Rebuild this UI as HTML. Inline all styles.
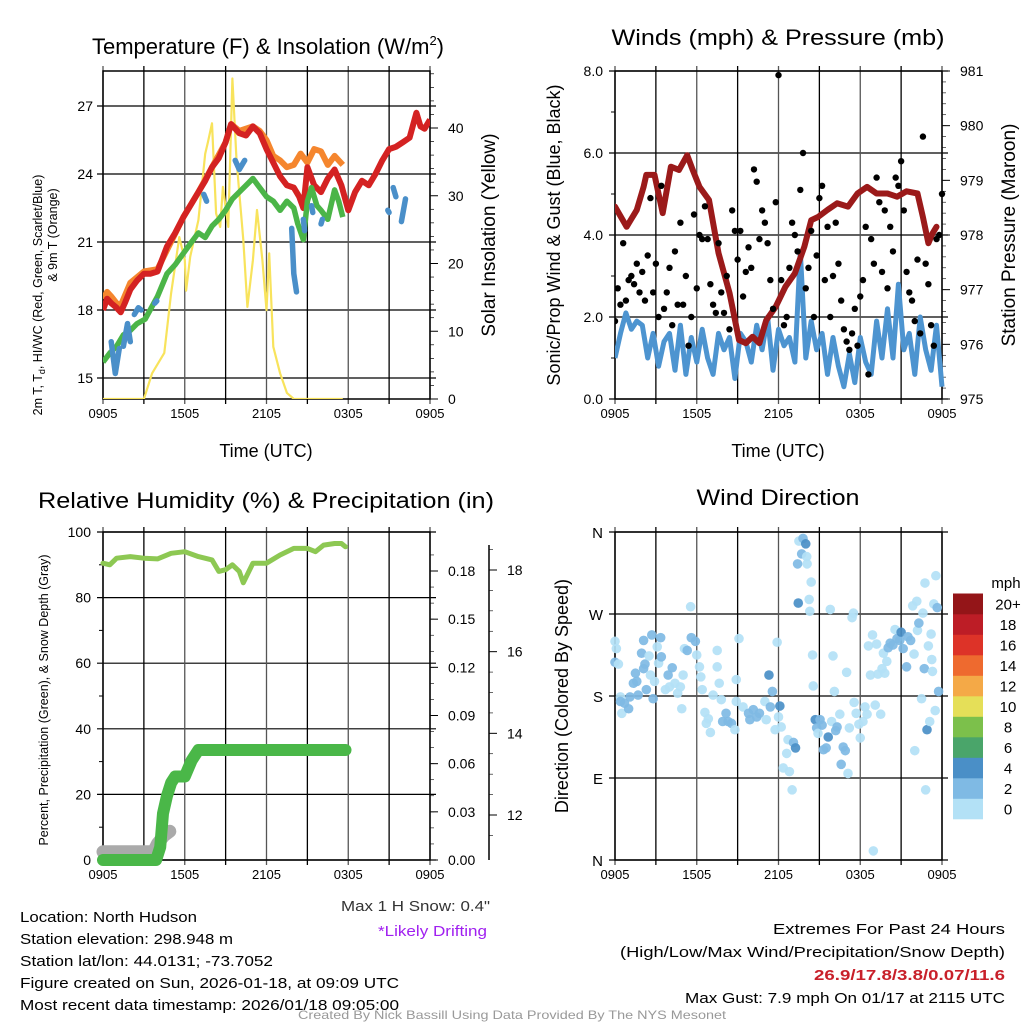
<!DOCTYPE html>
<html><head><meta charset="utf-8"><style>
html,body{margin:0;padding:0;background:#fff}
svg{display:block;font-family:"Liberation Sans",sans-serif}
</style></head><body>
<svg id="fig" width="1024" height="1024" viewBox="0 0 1024 1024" xmlns="http://www.w3.org/2000/svg">
<rect width="1024" height="1024" fill="#fff"/>
<g id="tl"></g>
<g id="tr"></g>
<g id="bl"></g>
<g id="br"></g>
<g id="txt" font-size="15" fill="#000">
<text x="20" y="922" textLength="177" lengthAdjust="spacingAndGlyphs">Location: North Hudson</text>
<text x="20" y="944" textLength="213" lengthAdjust="spacingAndGlyphs">Station elevation: 298.948 m</text>
<text x="20" y="966" textLength="253" lengthAdjust="spacingAndGlyphs">Station lat/lon: 44.0131; -73.7052</text>
<text x="20" y="988" textLength="379" lengthAdjust="spacingAndGlyphs">Figure created on Sun, 2026-01-18, at 09:09 UTC</text>
<text x="20" y="1010" textLength="379" lengthAdjust="spacingAndGlyphs">Most recent data timestamp: 2026/01/18 09:05:00</text>
<text x="490" y="911" text-anchor="end" fill="#333" textLength="149" lengthAdjust="spacingAndGlyphs">Max 1 H Snow: 0.4"</text>
<text x="487" y="936" text-anchor="end" fill="#a020f0" textLength="109" lengthAdjust="spacingAndGlyphs">*Likely Drifting</text>
<text x="1005" y="934" text-anchor="end" textLength="232" lengthAdjust="spacingAndGlyphs">Extremes For Past 24 Hours</text>
<text x="1005" y="957" text-anchor="end" textLength="385" lengthAdjust="spacingAndGlyphs">(High/Low/Max Wind/Precipitation/Snow Depth)</text>
<text x="1005" y="980" text-anchor="end" fill="#c8202a" font-weight="bold" textLength="191" lengthAdjust="spacingAndGlyphs">26.9/17.8/3.8/0.07/11.6</text>
<text x="1005" y="1003" text-anchor="end" textLength="320" lengthAdjust="spacingAndGlyphs">Max Gust: 7.9 mph On 01/17 at 2115 UTC</text>
<text x="512" y="1019" text-anchor="middle" fill="#999" font-size="12" textLength="428" lengthAdjust="spacingAndGlyphs">Created By Nick Bassill Using Data Provided By The NYS Mesonet</text>
</g>
</svg>
<script>
// ---------- data ----------
const timeTicks = ["0905","1505","2105","0305","0905"];
const tempTicks = [15,18,21,24,27];
const solarTicks = [0,10,20,30,40];
const tempHours = [0,0.3,0.6,1,1.3,1.6,2,2.5,3,3.5,4,4.7,5.3,5.9,6.5,7,7.5,8,8.5,9,9.4,10,10.5,11,11.5,12,12.5,13,13.5,14,14.4,14.7,15,15.5,16,16.5,17,17.5,18,18.5,19,19.5,20,20.5,21,21.5,22,22.5,23,23.3,23.6,24];
const tempVals  = [18.0,18.5,18.3,18.1,17.9,18.3,18.9,19.3,19.6,19.6,19.7,20.8,21.4,22.1,22.7,23.2,23.7,24.3,24.7,25.4,26.2,25.8,25.7,26.1,25.8,25.1,24.5,23.9,23.5,23.4,23.0,22.5,24.3,23.5,23.2,23.8,24.2,23.5,22.4,23.2,23.7,23.5,24.0,24.6,25.1,25.2,25.4,25.6,26.7,26.1,26.0,26.4];
const t9Hours = [0,0.3,0.6,1,1.3,2,3,4,5.9,7,8,9,9.4,10,11,11.5,12,12.5,13,13.5,14,14.5,15,15.5,16,16.5,17,17.3,17.6];
const t9Vals  = [18.5,18.8,18.6,18.3,18.2,19.2,19.7,19.8,22.1,23.2,24.3,25.4,26.2,25.9,26.1,25.9,25.5,24.8,24.6,24.3,24.4,24.9,24.5,25.1,25.0,24.4,24.8,24.6,24.4];
const tdHours = [0,0.5,1,1.5,2,2.5,3.1,4,4.7,5.3,5.9,6.5,7,7.5,8,8.5,9,9.5,10,10.5,11,11.5,12,12.5,13,13.5,14,14.3,14.7,15,15.3,15.7,16,16.5,17,17.3,17.6];
const tdVals  = [15.7,16.1,16.4,16.9,17.1,17.4,17.6,18.6,19.6,20.0,20.5,21.0,21.4,21.2,21.7,22.0,22.4,22.9,23.2,23.5,23.8,23.4,23.0,22.8,22.4,22.8,22.5,21.8,21.1,22.8,23.4,22.6,22.4,22.0,23.3,22.8,22.1];
const wcSegHours = [[0.6,0.9,1.2],[1.5,1.8,2.0],[2.3,2.6,2.8],[3.8,3.95],[7.4,7.6],[9.7,10.0,10.4],[13.85,14.0,14.2],[14.7,14.8],[15.3,15.4],[16.0,16.1],[20.9,21.0],[21.3,21.5],[21.9,22.2]];
const wcSegVals  = [[16.6,15.2,16.3],[16.4,17.4,16.6],[17.8,18.1,18.0],[18.3,18.4],[23.1,22.8],[24.6,24.2,24.6],[21.6,19.6,18.8],[22.0,21.5],[22.6,22.3],[21.8,22.0],[22.4,22.3],[23.4,23.0],[21.9,22.9]];
const solarHours = [0,3,3.6,4.5,5,5.6,6,6.1,6.4,7,7.5,7.7,8,8.3,8.6,8.8,9.2,9.5,9.8,10.3,10.6,11,11.3,11.7,12,12.2,12.5,13,13.5,14,17.6];
const solarVals  = [0,0,3.8,6.8,15.6,23.9,20.5,16,21,26.4,36.2,37.9,40.7,27.4,25.4,31.3,25.4,47.3,35.3,23.5,13.6,20.5,27.9,20.5,13.1,21.5,7.7,3.8,0.9,0,0];

const windTicks = ["0.0","2.0","4.0","6.0","8.0"];
const presTicks = [975,976,977,978,979,980,981];
const windVals = [1.0,1.6,2.1,1.7,1.9,1.8,1.0,1.6,0.8,1.4,1.6,0.7,1.8,0.6,1.5,0.9,1.7,1.0,0.6,1.6,1.2,1.5,0.5,1.6,1.4,0.9,1.8,1.2,2.0,0.7,1.7,1.3,1.5,0.9,3.6,1.0,1.9,1.2,1.6,0.6,1.5,0.8,0.3,1.1,0.4,1.5,0.9,0.6,1.9,1.0,2.2,1.0,2.8,1.2,1.6,0.6,2.0,1.2,0.7,1.8,0.3];
const gustVals = [1.9,2.7,2.3,3.8,2.4,2.9,3.0,2.8,3.3,2.6,3.1,
 2.4,3.5,4.9,2.6,3.3,2.0,5.2,2.2,2.6,3.2,
 1.8,3.6,2.3,4.3,2.3,3.0,1.3,2.0,4.5,2.7,
 4.0,3.9,4.7,3.9,2.8,2.3,2.1,3.8,2.6,2.1,
 3.0,1.7,4.6,4.1,3.4,4.1,2.5,3.1,3.7,3.2,
 5.6,5.3,3.9,4.6,4.3,3.8,2.9,2.2,4.8,7.9,
 2.9,1.8,2.0,3.2,4.3,4.0,3.6,5.1,6.0,2.7,
 3.2,4.1,2.0,3.5,4.9,5.2,2.9,4.2,2.0,3.0,
 4.3,3.3,2.4,1.7,1.4,1.2,1.6,2.2,1.3,2.5,
 2.9,4.2,0.6,3.9,3.3,5.4,4.8,3.1,4.6,2.7,
 4.2,3.6,5.4,5.2,5.8,4.6,3.1,2.6,2.4,1.9,
 3.4,1.6,6.4,3.3,2.8,1.8,1.3,3.9,4.0,5.0];
const presHours = [0,0.85,1.6,2.1,2.3,2.9,3.5,4.1,4.7,5.3,5.7,6.2,6.9,7.6,8.4,9.1,9.6,10.1,10.6,11.1,11.8,12.5,13.2,13.9,14.4,14.9,15.6,16.3,17.1,17.8,18.5,19.2,20,20.7,21.4,22.2,22.6,23,23.3,23.6];
const presVals  = [978.52,978.15,978.46,978.88,979.1,979.1,978.4,979.25,979.19,979.46,979.19,978.88,978.64,977.67,976.94,976.08,976.02,976.14,976.02,976.44,976.69,977.05,977.3,977.79,978.27,978.33,978.46,978.58,978.52,978.76,978.88,978.76,978.76,978.7,978.8,978.76,978.33,977.85,978.03,978.15];

const rhTicks = [0,20,40,60,80,100];
const precipTicks = ["0.00","0.03","0.06","0.09","0.12","0.15","0.18"];
const snowTicks = [12,14,16,18];
const rhHours = [0,0.5,1,2,3,4,5,6,7,8,8.5,9,9.5,10,10.3,11,12,13,14,15,15.6,16.2,17,17.5,17.8];
const rhVals  = [90.5,90,92,92.5,92,91.8,93.5,94,92.5,91.5,88,88.5,90,88,84.5,90.5,90.5,93,95,95,94,96,96.5,96.5,95.5];
const precipHours = [0,3.9,4.2,4.4,4.7,5,5.3,6,6.5,7,17.8];
const precipVals  = [0,0,0.008,0.029,0.04,0.048,0.052,0.052,0.062,0.0685,0.0685];
const snowHours = [0,3.7,4.0,4.5,4.9];
const snowVals  = [11.1,11.1,11.3,11.5,11.6];

const dirTicks = ["N","E","S","W","N"];
const cbLabels = ["0","2","4","6","8","10","12","14","16","18","20+"];
const cbColors = ["#b3e1f6","#7fbae4","#4a8fc7","#4aa56a","#7cc04b","#e5df58","#f4a947","#ee6a2f","#dd3328","#bd1d26","#941518"];
const dirHours = [0,0.1,0,0.25,0.4,0.4,0.5,0.7,1.0,1.1,1.35,1.5,1.6,1.7,1.95,2.1,2.1,2.2,2.3,2.5,2.6,2.7,2.8,2.9,3.1,3.2,3.35,3.4,3.7,3.9,4.0,4.2,4.4,4.6,4.8,4.9,5.0,5.1,5.3,5.55,5.6,5.9,6.0,6.2,6.3,6.4,6.6,6.7,6.85,7.0,7.2,7.5,7.5,7.65,7.8,7.9,8.15,8.3,8.55,8.8,8.9,9.1,8.9,9.4,9.8,9.9,10.15,10.4,10.6,11,11.1,11.3,11.4,11.55,11.75,11.9,12.0,12.1,12.2,12.35,12.6,12.7,12.8,13.0,13.1,13.25,13.4,13.45,13.5,13.7,13.8,14.0,14.07,14.1,14.3,14.25,14.4,14.5,14.55,14.7,14.8,14.9,15.05,15.2,15.3,15.5,15.65,15.8,15.9,16.0,16.1,16.2,16.3,16.5,16.6,16.75,16.9,17.0,17.1,17.2,17.4,17.5,17.55,17.7,17.9,18.0,18.2,18.35,18.5,18.6,18.75,18.9,18.96,19.1,19.2,19.3,19.5,19.6,19.7,19.8,19.95,20.05,20.2,20.4,20.55,20.7,20.9,21.0,21.15,21.4,21.5,21.7,21.85,21.95,22.0,22.15,22.2,22.3,22.5,22.6,22.7,22.75,22.8,22.9,23.0,23.1,23.2,23.25,23.3,23.4,23.5,23.55,23.65,23.75];
const dirVals = [240,232,217,215,179,174,161,172,166,179,194,205,196,181,227,210,241,215,187,224,203,247,177,196,234,216,244,223,187,203,190,211,194,183,190,166,203,232,230,278,244,240,225,212,201,187,162,150,155,140,181,230,212,194,176,152,161,152,150,143,198,243,174,168,161,154,165,157,161,174,154,203,168,185,143,239,157,169,146,101,117,132,97,77,129,123,325,282,350,336,353,347,333,325,273,286,305,225,191,154,145,139,154,148,121,123,135,275,152,224,185,142,146,160,105,124,120,206,95,145,266,271,173,161,149,134,152,168,160,235,203,247,10,170,237,204,160,210,227,205,218,233,238,236,253,243,241,250,232,212,245,241,279,226,120,284,252,260,177,271,210,304,77,143,235,152,248,220,207,281,164,312,277,185];
const dirSpeeds = [1,1,2,1,1,3,1,3,3,3,3,3,3,3,3,3,3,3,3,1,1,3,3,1,1,1,3,3,1,3,1,3,1,1,1,1,1,1,3,1,3,3,1,1,1,1,1,1,1,1,1,1,1,1,1,3,3,3,3,1,1,1,1,1,3,3,3,3,3,1,1,4,3,3,1,1,1,4,1,1,1,1,1,1,3,4,3,4,1,3,3,5,1,1,1,1,1,1,1,4,3,1,3,3,3,3,4,1,1,1,1,3,3,1,3,3,3,1,1,1,1,1,1,1,1,1,1,1,1,1,1,1,1,1,1,1,1,1,1,1,1,3,3,3,1,3,3,4,3,3,3,3,1,1,1,1,1,3,1,1,3,1,1,4,1,1,1,1,1,1,1,1,3,3];

// ---------- helpers ----------
const NS = "http://www.w3.org/2000/svg";
function mk(parent, tag, attrs, text){
  const e = document.createElementNS(NS, tag);
  for (const k in attrs) e.setAttribute(k, attrs[k]);
  if (text !== undefined) e.textContent = text;
  parent.appendChild(e);
  return e;
}
function linScale(d0,d1,r0,r1){ return v => r0 + (v-d0)*(r1-r0)/(d1-d0); }
function pathFrom(hs, vs, xs, ys){
  let d=""; for(let i=0;i<hs.length;i++){ d += (i?"L":"M")+xs(hs[i]).toFixed(1)+","+ys(vs[i]).toFixed(1); } return d;
}
function frame(g, L, R, T, B){
  for(let i=0;i<=8;i++){
    const x = L + i*(R-L)/8;
    const vl = mk(g,"line",{x1:x,x2:x,y1:T-5,y2:B+5,stroke: i%2? "#000":"#555","stroke-width":1.3});
    
    
  }
  const fr = mk(g,"rect",{x:L,y:T,width:R-L,height:B-T,fill:"none",stroke:"#000","stroke-width":1.5});
  
  
  for(let i=0;i<timeTicks.length;i++){
    const t = mk(g,"text",{x:L+i*(R-L)/4,y:B+19,"text-anchor":"middle","font-size":13}, timeTicks[i]);
    
    
  }
}
function hgrid(g,L,R,y){
  const l = mk(g,"line",{x1:L-6,x2:R+6,y1:y,y2:y,stroke:"#000","stroke-width":1.2});
  
  
}
function label(g,x,y,s,txt,anchor,rot,name,extra){
  const a = {x:x,y:y,"font-size":s,"text-anchor":anchor||"middle"};
  if(rot) a.transform = "rotate(-90 "+x+" "+y+")";
  if(extra) for(const k in extra) a[k]=extra[k];
  const t = mk(g,"text",a,txt);
  
  
  return t;
}

// ---------- top-left: temperature ----------
(function(){
  const g = document.getElementById("tl");
  const L=103,R=430,T=71,B=399;
  const x = linScale(0,24,L,R);
  const y = linScale(15,27,378,106);
  const ys = linScale(0,40,399,128);
  const tt = mk(g,"text",{x:268,y:54,"font-size":22,"text-anchor":"middle"});
  
  
  tt.innerHTML = 'Temperature (F) &amp; Insolation (W/m<tspan font-size="13" dy="-9">2</tspan><tspan dy="9">)</tspan>';
  tempTicks.forEach(v=>{ hgrid(g,L,R,y(v)); label(g,L-10,y(v)+5,14,String(v),"end",false,"temp-tick-label"); });
  solarTicks.forEach(v=>{ mk(g,"line",{x1:R,x2:R+8,y1:ys(v),y2:ys(v),stroke:"#000"}); label(g,R+18,ys(v)+5,14,String(v),"start",false,"solar-tick-label"); });
  for(let v=2;v<=48;v+=2){ if(v%10) mk(g,"line",{x1:R,x2:R+4,y1:ys(v),y2:ys(v),stroke:"#000","stroke-width":0.7}); }
  frame(g,L,R,T,B);
  label(g,266,457,18,"Time (UTC)","middle",false,"x-axis-title");
  label(g,42,235,12.5,"2m T, T","middle",true,"temp-axis-title",{dx:-60}).innerHTML='2m T, T<tspan font-size="9" dy="3">d</tspan><tspan dy="-3">, HI/WC (Red, Green, Scarlet/Blue)</tspan>';
  label(g,57,235,12.5,"& 9m T (Orange)","middle",true,"temp-axis-title-2");
  label(g,495,235,19,"Solar Insolation (Yellow)","middle",true,"solar-axis-title");
  const clip = mk(g,"clipPath",{id:"c1"}); mk(clip,"rect",{x:L,y:T,width:R-L,height:B-T});
  const sg = mk(g,"g",{"clip-path":"url(#c1)"});
  const p1 = mk(sg,"path",{d:pathFrom(solarHours,solarVals,x,ys),fill:"none",stroke:"#f8e35c","stroke-width":2.2,"stroke-linejoin":"round"});
   
  const p2 = mk(sg,"path",{d:pathFrom(t9Hours,t9Vals,x,y),fill:"none",stroke:"#f5862e","stroke-width":6,"stroke-linejoin":"round"});
   
  const p3 = mk(sg,"path",{d:pathFrom(tempHours,tempVals,x,y),fill:"none",stroke:"#d42222","stroke-width":6,"stroke-linejoin":"round"});
   
  const p4 = mk(sg,"path",{d:pathFrom(tdHours,tdVals,x,y),fill:"none",stroke:"#4bb548","stroke-width":5.5,"stroke-linejoin":"round"});
   
  wcSegHours.forEach((hs,i)=>{
    const p = mk(sg,"path",{d:pathFrom(hs,wcSegVals[i],x,y),fill:"none",stroke:"#4a8fc9","stroke-width":5.5,"stroke-linecap":"round","stroke-linejoin":"round"});
     
  });
})();

// ---------- top-right: wind & pressure ----------
(function(){
  const g = document.getElementById("tr");
  const L=615,R=942,T=71,B=399;
  const x = linScale(0,24,L,R);
  const y = linScale(0,8,B,T);
  const yp = linScale(975,981,B,T);
  label(g,778,45,22,"Winds (mph) & Pressure (mb)","middle",false,"wind-title",{textLength:333,lengthAdjust:"spacingAndGlyphs"});
  windTicks.forEach(v=>{ hgrid(g,L,R,y(+v)); label(g,L-12,y(+v)+5,14,v,"end",false,"wind-tick-label"); });
  for(let v=1;v<8;v+=2) mk(g,"line",{x1:L-4,x2:L,y1:y(v),y2:y(v),stroke:"#000"});
  presTicks.forEach(v=>{ mk(g,"line",{x1:R,x2:R+8,y1:yp(v),y2:yp(v),stroke:"#000"}); label(g,R+18,yp(v)+5,14,String(v),"start",false,"pressure-tick-label"); });
  for(let v=975.2;v<981;v+=0.2){ mk(g,"line",{x1:R,x2:R+4,y1:yp(v),y2:yp(v),stroke:"#000","stroke-width":0.6}); }
  frame(g,L,R,T,B);
  label(g,778,457,18,"Time (UTC)","middle",false,"x-axis-title");
  label(g,560,235,18,"Sonic/Prop Wind & Gust (Blue, Black)","middle",true,"wind-axis-title");
  label(g,1015,235,19,"Station Pressure (Maroon)","middle",true,"pressure-axis-title");
  const clip = mk(g,"clipPath",{id:"c2"}); mk(clip,"rect",{x:L,y:T-4,width:R-L+4,height:B-T+4});
  const sg = mk(g,"g",{"clip-path":"url(#c2)"});
  const wh = windVals.map((v,i)=>i*24/(windVals.length-1));
  const pw = mk(sg,"path",{d:pathFrom(wh,windVals,x,y),fill:"none",stroke:"#4d94d0","stroke-width":5,"stroke-linejoin":"round"});
   
  const pp = mk(sg,"path",{d:pathFrom(presHours,presVals,x,yp),fill:"none",stroke:"#9b1a1a","stroke-width":6,"stroke-linejoin":"round","stroke-linecap":"round"});
   
  gustVals.forEach((v,i)=>{
    const c = mk(sg,"circle",{cx:x(i*24/(gustVals.length-1)),cy:y(v),r:3.2,fill:"#000"});
    
    
  });
})();

// ---------- bottom-left: RH & precip ----------
(function(){
  const g = document.getElementById("bl");
  const L=103,R=430,T=532,B=860;
  const x = linScale(0,24,L,R);
  const y = linScale(0,100,B,T);
  const yp = linScale(0,0.18,B,571);
  const ysn = linScale(12,18,815,570);
  label(g,266,508,22,"Relative Humidity (%) & Precipitation (in)","middle",false,"rh-title",{textLength:456,lengthAdjust:"spacingAndGlyphs"});
  rhTicks.forEach(v=>{ hgrid(g,L,R,y(v)); label(g,L-12,y(v)+5,14,String(v),"end",false,"rh-tick-label"); });
  for(let v=10;v<100;v+=20) mk(g,"line",{x1:L-4,x2:L,y1:y(v),y2:y(v),stroke:"#000"});
  precipTicks.forEach(v=>{ mk(g,"line",{x1:R,x2:R+8,y1:yp(+v),y2:yp(+v),stroke:"#000"}); label(g,R+18,yp(+v)+5,14,v,"start",false,"precip-tick-label"); });
  for(let v=0.01;v<0.195;v+=0.01){ mk(g,"line",{x1:R,x2:R+4,y1:yp(v),y2:yp(v),stroke:"#000","stroke-width":0.6}); }
  mk(g,"line",{x1:489,x2:489,y1:545,y2:860,stroke:"#000","stroke-width":1.5});
  snowTicks.forEach(v=>{ mk(g,"line",{x1:489,x2:497,y1:ysn(v),y2:ysn(v),stroke:"#000"}); label(g,507,ysn(v)+5,14,String(v),"start",false,"snow-tick-label"); });
  for(let v=11.5;v<18.6;v+=0.5){ if(v%2) mk(g,"line",{x1:489,x2:493,y1:ysn(v),y2:ysn(v),stroke:"#000","stroke-width":0.6}); }
  frame(g,L,R,T,B);
  label(g,48,700,12.5,"Percent, Precipitation (Green), & Snow Depth (Gray)","middle",true,"rh-axis-title");
  const sg = mk(g,"g",{});
  const ps = mk(sg,"path",{d:pathFrom(snowHours,snowVals,x,ysn),fill:"none",stroke:"#aaaaaa","stroke-width":13,"stroke-linecap":"round","stroke-linejoin":"round"});
   
  const pr = mk(sg,"path",{d:pathFrom(precipHours,precipVals,x,yp),fill:"none",stroke:"#4ab748","stroke-width":12,"stroke-linecap":"round","stroke-linejoin":"round"});
   
  const ph = mk(sg,"path",{d:pathFrom(rhHours,rhVals,x,y),fill:"none",stroke:"#8dc853","stroke-width":5,"stroke-linecap":"round","stroke-linejoin":"round"});
   
})();

// ---------- bottom-right: wind direction ----------
(function(){
  const g = document.getElementById("br");
  const L=615,R=942,T=532,B=860;
  const x = linScale(0,24,L,R);
  const y = linScale(0,360,B,T);
  label(g,778,505,22,"Wind Direction","middle",false,"direction-title",{textLength:163,lengthAdjust:"spacingAndGlyphs"});
  dirTicks.forEach((v,i)=>{ hgrid(g,L,R,y(i*90)); label(g,L-12,y(i*90)+6,15,v,"end",false,"direction-tick-label"); });
  frame(g,L,R,T,B);
  label(g,568,696,18,"Direction (Colored By Speed)","middle",true,"direction-axis-title");
  dirVals.forEach((d,i)=>{
    const s = dirSpeeds[i];
    const c = mk(g,"circle",{cx:x(dirHours[i]),cy:y(d),r:4.8,fill:cbColors[Math.min(10,Math.floor(s/2))],"fill-opacity":0.92});
    
    
  });
  label(g,1006,588,15,"mph","middle",false,"colorbar-title");
  cbLabels.forEach((lab,i)=>{
    const yy = 819 - (i+1)*20.5;
    const r = mk(g,"rect",{x:953,y:yy,width:30,height:20.8,fill:cbColors[i]});
    
    
    label(g,1008,yy+16,15,lab,"middle",false,"colorbar-label");
  });
})();
</script>
</body></html>
